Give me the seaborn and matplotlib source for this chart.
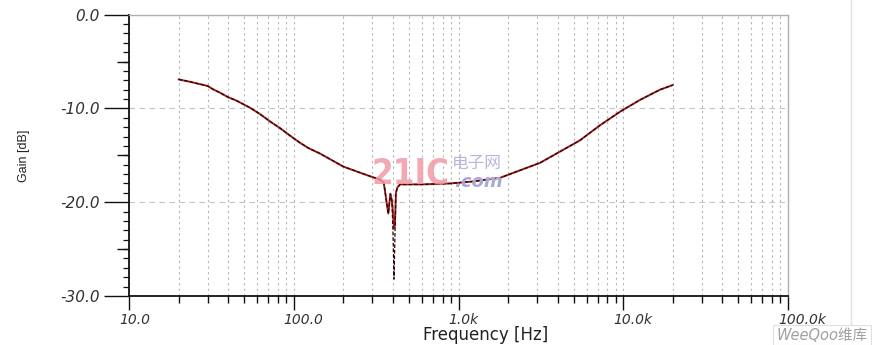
import numpy as np
import pandas as pd
import matplotlib
matplotlib.use("Agg")
import matplotlib.pyplot as plt
import matplotlib.transforms as mtransforms
import seaborn as sns
from matplotlib.ticker import FixedLocator, FixedFormatter, NullFormatter
from matplotlib.lines import Line2D

# ---- data ----
freq_hz = [20, 23.4, 30, 32.5, 35.7, 40, 45, 54, 62.4, 72, 82.6, 95, 109, 122,
           144, 200, 277, 334, 351.6, 358, 366, 375, 381, 386, 394, 400, 406,
           411, 417, 426, 442, 600, 887, 1200, 1787, 2360, 3126, 4130, 5460,
           7220, 9550, 12600, 16700, 20000]
gain_trace_a = [-6.9, -7.15, -7.6, -7.97, -8.32, -8.8, -9.17, -9.9, -10.6,
                -11.4, -12.1, -12.9, -13.65, -14.2, -14.8, -16.2, -17.1, -17.6,
                -17.9, -18.8, -20.0, -21.2, -20.0, -19.1, -19.8, -21.0, -22.8,
                -22.5, -19.0, -18.4, -18.1, -18.1, -18.0, -17.8, -17.4, -16.6,
                -15.8, -14.6, -13.4, -11.8, -10.35, -9.1, -8.0, -7.5]
gain_trace_b = [-6.9, -7.15, -7.6, -7.97, -8.32, -8.8, -9.17, -9.9, -10.6,
                -11.4, -12.1, -12.9, -13.65, -14.2, -14.8, -16.2, -17.1, -17.6,
                -17.9, -18.8, -20.0, -21.2, -20.0, -19.1, -19.8, -23.0, -28.2,
                -24.0, -19.0, -18.4, -18.1, -18.1, -18.0, -17.8, -17.4, -16.6,
                -15.8, -14.6, -13.4, -11.8, -10.35, -9.1, -8.0, -7.5]

x_major_ticks = [10, 100, 1000, 10000, 100000]
x_tick_labels = ["10.0", "100.0", "1.0k", "10.0k", "100.0k"]
y_major_ticks = [-30, -20, -10, 0]
y_tick_labels = ["-30.0", "-20.0", "-10.0", "0.0"]
y_mid_ticks = [-25, -15, -5]

df_a = pd.DataFrame({"Frequency": freq_hz, "Gain": gain_trace_a})
df_b = pd.DataFrame({"Frequency": freq_hz, "Gain": gain_trace_b})

sns.set_style("white")
plt.rcParams["font.family"] = ["DejaVu Sans"]

fig = plt.figure(figsize=(8.86, 3.45), dpi=100)
ax = fig.add_axes([129 / 886, 49 / 345, 659 / 886, 281.3 / 345])

sns.lineplot(data=df_a, x="Frequency", y="Gain", ax=ax, color="#a52020",
             linewidth=1.4, estimator=None, sort=False)
sns.lineplot(data=df_b, x="Frequency", y="Gain", ax=ax, color="#2a0606",
             linewidth=0.9, linestyle=(0, (3, 1.5)), estimator=None, sort=False)

ax.set_xscale("log")
ax.set_xlim(10, 100000)
ax.set_ylim(-30, 0)

# x ticks
ax.xaxis.set_major_locator(FixedLocator(x_major_ticks))
ax.xaxis.set_major_formatter(FixedFormatter(x_tick_labels))
minor_x = [m * 10 ** d for d in range(1, 5) for m in range(2, 10)]
ax.xaxis.set_minor_locator(FixedLocator(minor_x))
ax.xaxis.set_minor_formatter(NullFormatter())

# y ticks
ax.yaxis.set_major_locator(FixedLocator(y_major_ticks))
ax.yaxis.set_major_formatter(FixedFormatter(y_tick_labels))
ax.yaxis.set_minor_locator(FixedLocator(list(range(-30, 1))))
ax.yaxis.set_minor_formatter(NullFormatter())

ax.tick_params(axis="x", which="major", bottom=True, direction="out", length=10,
               width=1.0, color="#111111", pad=2, labelsize=10,
               labelcolor="#333333")
ax.tick_params(axis="x", which="minor", bottom=True, direction="out", length=5,
               width=1.0, color="#111111")
ax.tick_params(axis="y", which="major", left=True, direction="out", length=18,
               width=1.0, color="#111111", pad=3, labelsize=11,
               labelcolor="#333333")
ax.tick_params(axis="y", which="minor", left=True, direction="out", length=4,
               width=0.9, color="#111111")
offset = mtransforms.ScaledTranslation(-10 / 100, 0, fig.dpi_scale_trans)
for lbl in ax.get_xticklabels():
    lbl.set_fontstyle("oblique")
    lbl.set_horizontalalignment("left")
    lbl.set_transform(lbl.get_transform() + offset)
for lbl in ax.get_yticklabels():
    lbl.set_fontstyle("oblique")

# mid y ticks (every 5 dB)
sec = ax.secondary_yaxis("left")
sec.set_yticks(y_mid_ticks)
sec.set_yticklabels([])
sec.tick_params(axis="y", left=True, direction="out", length=9, width=1.0,
                color="#111111")
sec.spines["left"].set_visible(False)

# grid
ax.grid(True, axis="x", which="both", color="#b5b5b5", linewidth=0.8,
        linestyle=(0, (2, 3)))
ax.grid(True, axis="y", which="major", color="#c4c4c4", linewidth=0.8,
        linestyle=(0, (5, 4)))

for s in ["left", "bottom"]:
    ax.spines[s].set_color("#111111")
    ax.spines[s].set_linewidth(1.3)
for s in ["top", "right"]:
    ax.spines[s].set_color("#b0b0b0")
    ax.spines[s].set_linewidth(1.0)

ax.set_xlabel("Frequency [Hz]", fontsize=12, color="#222222",
              family="DejaVu Sans", va="center")
ax.xaxis.set_label_coords((486 - 129) / 659, -(335 - 296) / 281.3)
ax.set_ylabel("Gain [dB]", fontsize=9, color="#222222",
              family="Liberation Sans")
ax.yaxis.set_label_coords(-(129 - 30) / 659, 0.5)

# watermarks
fig.text(410 / 886, 1 - 174 / 345, "21IC", fontsize=25, fontweight="heavy",
         color="#f29aa4", alpha=0.85, ha="center", va="center",
         family="DejaVu Sans", stretch="condensed")
fig.text(477 / 886, 1 - 163 / 345, "电子网", fontsize=12, color="#b6b6dc",
         ha="center", va="center", family=["Noto Sans CJK SC", "DejaVu Sans"])
fig.text(478 / 886, 1 - 182 / 345, ".com", fontsize=13, color="#a8a8d4",
         fontweight="bold", style="italic", ha="center", va="center",
         family="DejaVu Sans")
fig.text(822 / 886, 1 - 335 / 345, "WeeQoo维库", fontsize=10.5, color="#a0a0a0",
         style="italic", ha="center", va="center",
         family=["DejaVu Sans", "Noto Sans CJK SC"],
         bbox=dict(boxstyle="square,pad=0.2", fc="white", ec="#e0e0e0", lw=0.8))
fig.add_artist(Line2D([851 / 886, 851 / 886], [0, 1], color="#e2e2e2",
                      linewidth=1.0, transform=fig.transFigure))

fig.savefig("out.png", dpi=100)
